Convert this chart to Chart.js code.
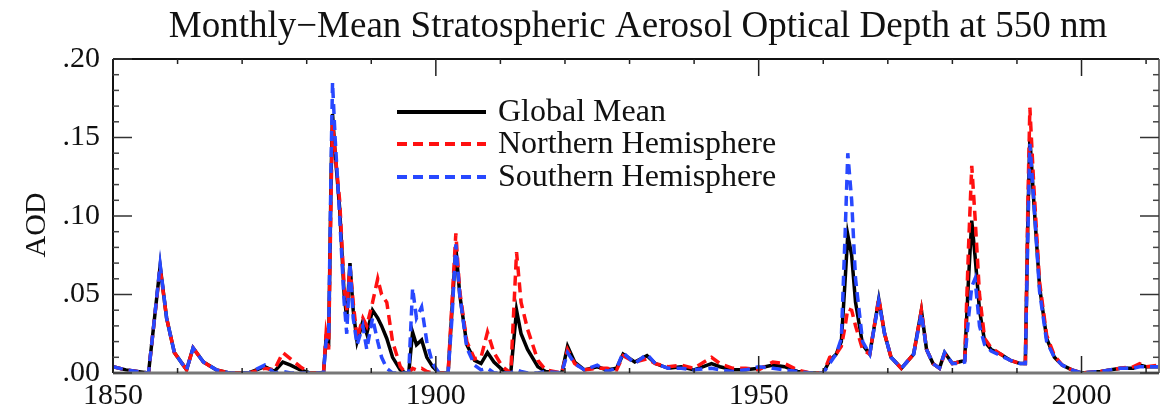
<!DOCTYPE html>
<html lang="en">
<head>
    <meta charset="UTF-8">
    <title>Stratospheric Aerosol Optical Depth</title>
    <script src="https://cdn.jsdelivr.net/npm/chart.js"></script>
    <style>
        body { margin: 0; background: #fff; }
        #wrap { width: 1160px; height: 414px; }
    </style>
</head>
<body>
    <div id="wrap"><canvas id="aodChart" width="1160" height="414"></canvas></div>

    <script>
        // values (year, AOD)
        const years = [
            1850.0, 1852.0, 1855.5, 1856.3, 1857.3, 1858.3, 1859.5, 1861.4, 1862.4, 1864.0,
            1866.0, 1868.0, 1871.0, 1873.5, 1875.0, 1876.3, 1877.5, 1879.0, 1880.5, 1882.6,
            1883.0, 1883.4, 1883.8, 1884.0, 1884.4, 1885.1, 1885.8, 1886.2, 1886.7, 1887.2,
            1887.8, 1888.7, 1889.3, 1890.2, 1891.0, 1891.6, 1892.4, 1893.3, 1894.5, 1895.3,
            1895.8, 1896.4, 1897.0, 1897.8, 1898.6, 1899.5, 1900.5, 1901.9, 1902.5, 1903.1,
            1903.7, 1904.8, 1906.0, 1907.0, 1908.0, 1909.0, 1910.3, 1911.6, 1912.5, 1913.2,
            1914.2, 1915.8, 1917.0, 1919.5, 1920.4, 1921.5, 1923.0, 1925.0, 1926.5, 1928.0,
            1929.0, 1930.8, 1932.7, 1934.0, 1936.0, 1938.0, 1940.0, 1942.7, 1944.0, 1946.0,
            1948.0, 1950.0, 1952.2, 1954.0, 1956.0, 1958.0, 1960.0, 1961.0, 1962.0, 1962.8,
            1963.4, 1963.8, 1964.4, 1965.0, 1966.1, 1967.2, 1968.6, 1969.5, 1970.5, 1972.1,
            1974.0, 1975.2, 1976.0, 1977.0, 1978.0, 1978.8, 1980.0, 1981.0, 1981.9, 1982.5,
            1983.0, 1983.5, 1984.2, 1985.0, 1986.0, 1987.5, 1989.0, 1990.5, 1991.3, 1991.7,
            1992.0, 1992.6, 1993.5, 1994.6, 1995.8, 1997.0, 1998.5, 2000.0, 2003.0, 2006.0,
            2008.0, 2009.0, 2010.0, 2012.0
        ];
        const globalMean = [
            0.004, 0.002, 0.000, 0.030, 0.068, 0.035, 0.013, 0.002, 0.016, 0.007,
            0.002, 0.000, 0.000, 0.004, 0.001, 0.007, 0.005, 0.002, 0.000, 0.000,
            0.022, 0.020, 0.130, 0.165, 0.140, 0.105, 0.050, 0.035, 0.070, 0.040,
            0.020, 0.033, 0.025, 0.040, 0.035, 0.030, 0.022, 0.010, 0.002, 0.000,
            0.000, 0.026, 0.018, 0.021, 0.010, 0.004, 0.000, 0.000, 0.040, 0.080,
            0.050, 0.018, 0.008, 0.006, 0.013, 0.007, 0.002, 0.000, 0.040, 0.025,
            0.015, 0.004, 0.001, 0.000, 0.017, 0.007, 0.002, 0.004, 0.002, 0.003,
            0.012, 0.007, 0.011, 0.006, 0.003, 0.004, 0.002, 0.006, 0.004, 0.002,
            0.002, 0.003, 0.005, 0.004, 0.001, 0.000, 0.000, 0.008, 0.012, 0.020,
            0.060, 0.088, 0.075, 0.045, 0.018, 0.012, 0.047, 0.025, 0.010, 0.003,
            0.012, 0.040, 0.015, 0.006, 0.003, 0.013, 0.006, 0.007, 0.008, 0.060,
            0.097, 0.075, 0.040, 0.020, 0.015, 0.012, 0.008, 0.006, 0.006, 0.100,
            0.150, 0.110, 0.055, 0.022, 0.010, 0.005, 0.002, 0.000, 0.001, 0.003,
            0.003, 0.005, 0.004, 0.004
        ];
        const northernHemisphere = [
            0.004, 0.002, 0.000, 0.030, 0.067, 0.035, 0.013, 0.002, 0.016, 0.007,
            0.002, 0.000, 0.000, 0.003, 0.002, 0.013, 0.009, 0.004, 0.000, 0.000,
            0.025, 0.015, 0.120, 0.160, 0.140, 0.110, 0.055, 0.040, 0.068, 0.045,
            0.022, 0.035, 0.030, 0.045, 0.060, 0.050, 0.045, 0.020, 0.004, 0.000,
            0.000, 0.003, 0.002, 0.003, 0.001, 0.000, 0.000, 0.000, 0.045, 0.089,
            0.052, 0.020, 0.009, 0.010, 0.026, 0.013, 0.004, 0.000, 0.077, 0.045,
            0.028, 0.008, 0.002, 0.000, 0.015, 0.006, 0.002, 0.003, 0.003, 0.002,
            0.011, 0.007, 0.009, 0.006, 0.004, 0.005, 0.003, 0.010, 0.006, 0.003,
            0.003, 0.002, 0.007, 0.006, 0.002, 0.000, 0.000, 0.010, 0.012, 0.017,
            0.030, 0.041, 0.040, 0.030, 0.015, 0.012, 0.048, 0.025, 0.010, 0.003,
            0.012, 0.040, 0.015, 0.006, 0.003, 0.012, 0.006, 0.007, 0.008, 0.080,
            0.132, 0.100, 0.050, 0.022, 0.016, 0.012, 0.008, 0.006, 0.006, 0.110,
            0.169, 0.120, 0.058, 0.024, 0.011, 0.005, 0.002, 0.000, 0.001, 0.003,
            0.004, 0.006, 0.004, 0.005
        ];
        const southernHemisphere = [
            0.004, 0.002, 0.000, 0.030, 0.069, 0.035, 0.013, 0.002, 0.016, 0.007,
            0.002, 0.000, 0.000, 0.005, 0.000, 0.001, 0.000, 0.000, 0.000, 0.000,
            0.020, 0.024, 0.140, 0.185, 0.150, 0.100, 0.045, 0.025, 0.070, 0.035,
            0.018, 0.030, 0.015, 0.035, 0.020, 0.010, 0.003, 0.000, 0.000, 0.000,
            0.000, 0.054, 0.035, 0.042, 0.020, 0.006, 0.000, 0.000, 0.035, 0.082,
            0.050, 0.016, 0.005, 0.002, 0.003, 0.000, 0.000, 0.000, 0.002, 0.001,
            0.000, 0.000, 0.001, 0.000, 0.013, 0.006, 0.002, 0.005, 0.001, 0.003,
            0.013, 0.006, 0.012, 0.006, 0.003, 0.003, 0.002, 0.003, 0.002, 0.001,
            0.002, 0.004, 0.003, 0.002, 0.001, 0.000, 0.000, 0.006, 0.012, 0.022,
            0.090, 0.140, 0.110, 0.060, 0.020, 0.012, 0.046, 0.025, 0.010, 0.003,
            0.012, 0.038, 0.015, 0.006, 0.003, 0.013, 0.006, 0.006, 0.007, 0.035,
            0.055, 0.060, 0.030, 0.018, 0.014, 0.011, 0.008, 0.006, 0.006, 0.090,
            0.146, 0.110, 0.052, 0.020, 0.010, 0.005, 0.002, 0.000, 0.001, 0.003,
            0.003, 0.004, 0.004, 0.004
        ];
        const seriesNames = ["Global Mean", "Northern Hemisphere", "Southern Hemisphere"];
        const yTickValues = [0, 0.05, 0.10, 0.15, 0.20];
        const xTickYears = [1850, 1900, 1950, 2000];

        const serif = "'Liberation Serif', 'DejaVu Serif', serif";
        Chart.defaults.font.family = serif;
        Chart.defaults.color = "#111";

        function pts(values) {
            return years.map((yr, i) => ({ x: yr, y: values[i] }));
        }

        // frame with inward ticks, title, y-axis label and legend
        const decorPlugin = {
            id: "decor",
            afterDatasetsDraw(chart) {
                const { ctx, chartArea: a, scales: { x, y } } = chart;
                ctx.save();
                function seg(x1, y1, x2, y2) {
                    ctx.beginPath(); ctx.moveTo(x1, y1); ctx.lineTo(x2, y2); ctx.stroke();
                }
                ctx.lineWidth = 2;
                ctx.strokeStyle = "#111";
                seg(a.left, a.top, a.right, a.top);
                seg(a.left, a.top, a.left, a.bottom);
                ctx.strokeStyle = "#777";
                ctx.lineWidth = 3;
                seg(a.left, a.bottom, a.right, a.bottom);
                ctx.lineWidth = 2;
                seg(a.right, a.top, a.right, a.bottom);

                ctx.strokeStyle = "#222";
                ctx.lineWidth = 1.5;
                for (let yr = 1850; yr <= 2012; yr += 10) {
                    const px = x.getPixelForValue(yr);
                    const len = xTickYears.includes(yr) ? 17 : 5;
                    seg(px, a.top, px, a.top + len);
                    seg(px, a.bottom, px, a.bottom - len);
                }
                for (let k = 0; k <= 20; k++) {
                    const py = y.getPixelForValue(k / 100);
                    const len = k % 5 === 0 ? 19 : 6;
                    ctx.strokeStyle = k % 5 === 0 ? "#333" : "#444";
                    seg(a.left, py, a.left + len, py);
                    seg(a.right, py, a.right - len, py);
                }

                // title
                ctx.fillStyle = "#111";
                ctx.textAlign = "center";
                ctx.textBaseline = "alphabetic";
                ctx.font = "37px " + serif;
                ctx.fillText("Monthly\u2212Mean Stratospheric Aerosol Optical Depth at 550 nm", 638, 37);

                // y label
                ctx.save();
                ctx.translate(37, 225);
                ctx.rotate(-Math.PI / 2);
                ctx.textBaseline = "middle";
                ctx.font = "30px " + serif;
                ctx.fillText("AOD", 0, 0);
                ctx.restore();

                // legend
                const rows = [112, 144, 177];
                chart.data.datasets.forEach((ds, i) => {
                    ctx.strokeStyle = ds.borderColor;
                    ctx.lineWidth = 4;
                    ctx.setLineDash(ds.borderDash || []);
                    seg(397, rows[i], 486, rows[i]);
                    ctx.setLineDash([]);
                    ctx.fillStyle = "#111";
                    ctx.textAlign = "left";
                    ctx.textBaseline = "middle";
                    ctx.font = "32px " + serif;
                    ctx.fillText(seriesNames[i], 498, rows[i] + 1);
                });
                ctx.restore();
            }
        };

        new Chart(document.getElementById("aodChart"), {
            type: "line",
            data: {
                datasets: [
                    {
                        label: seriesNames[0],
                        data: pts(globalMean),
                        borderColor: "#000000",
                        borderWidth: 3.5,
                        order: 2
                    },
                    {
                        label: seriesNames[1],
                        data: pts(northernHemisphere),
                        borderColor: "#ff1010",
                        borderWidth: 3.5,
                        borderDash: [10, 6],
                        order: 1
                    },
                    {
                        label: seriesNames[2],
                        data: pts(southernHemisphere),
                        borderColor: "#2848ff",
                        borderWidth: 3.5,
                        borderDash: [10, 6],
                        order: 0
                    }
                ]
            },
            options: {
                responsive: false,
                animation: false,
                layout: { padding: { top: 59, right: 1, left: 0, bottom: 0 } },
                elements: { point: { radius: 0 }, line: { tension: 0, fill: false } },
                plugins: { legend: { display: false }, tooltip: { enabled: false } },
                scales: {
                    x: {
                        type: "linear",
                        min: 1850,
                        max: 2012,
                        afterFit: s => { s.height = 41; },
                        afterBuildTicks: s => { s.ticks = xTickYears.map(v => ({ value: v })); },
                        grid: { display: false, drawTicks: false },
                        border: { display: false },
                        ticks: {
                            padding: 5,
                            maxRotation: 0,
                            autoSkip: false,
                            font: { size: 30 },
                            color: "#111",
                            callback: v => String(v)
                        }
                    },
                    y: {
                        min: 0,
                        max: 0.2,
                        afterFit: s => { s.width = 113; },
                        afterBuildTicks: s => { s.ticks = yTickValues.map(v => ({ value: v })); },
                        grid: { display: false, drawTicks: false },
                        border: { display: false },
                        ticks: {
                            padding: 13,
                            autoSkip: false,
                            font: { size: 30 },
                            color: "#111",
                            callback: v => v.toFixed(2).replace(/^0/, "")
                        }
                    }
                }
            },
            plugins: [decorPlugin]
        });
    </script>
</body>
</html>
